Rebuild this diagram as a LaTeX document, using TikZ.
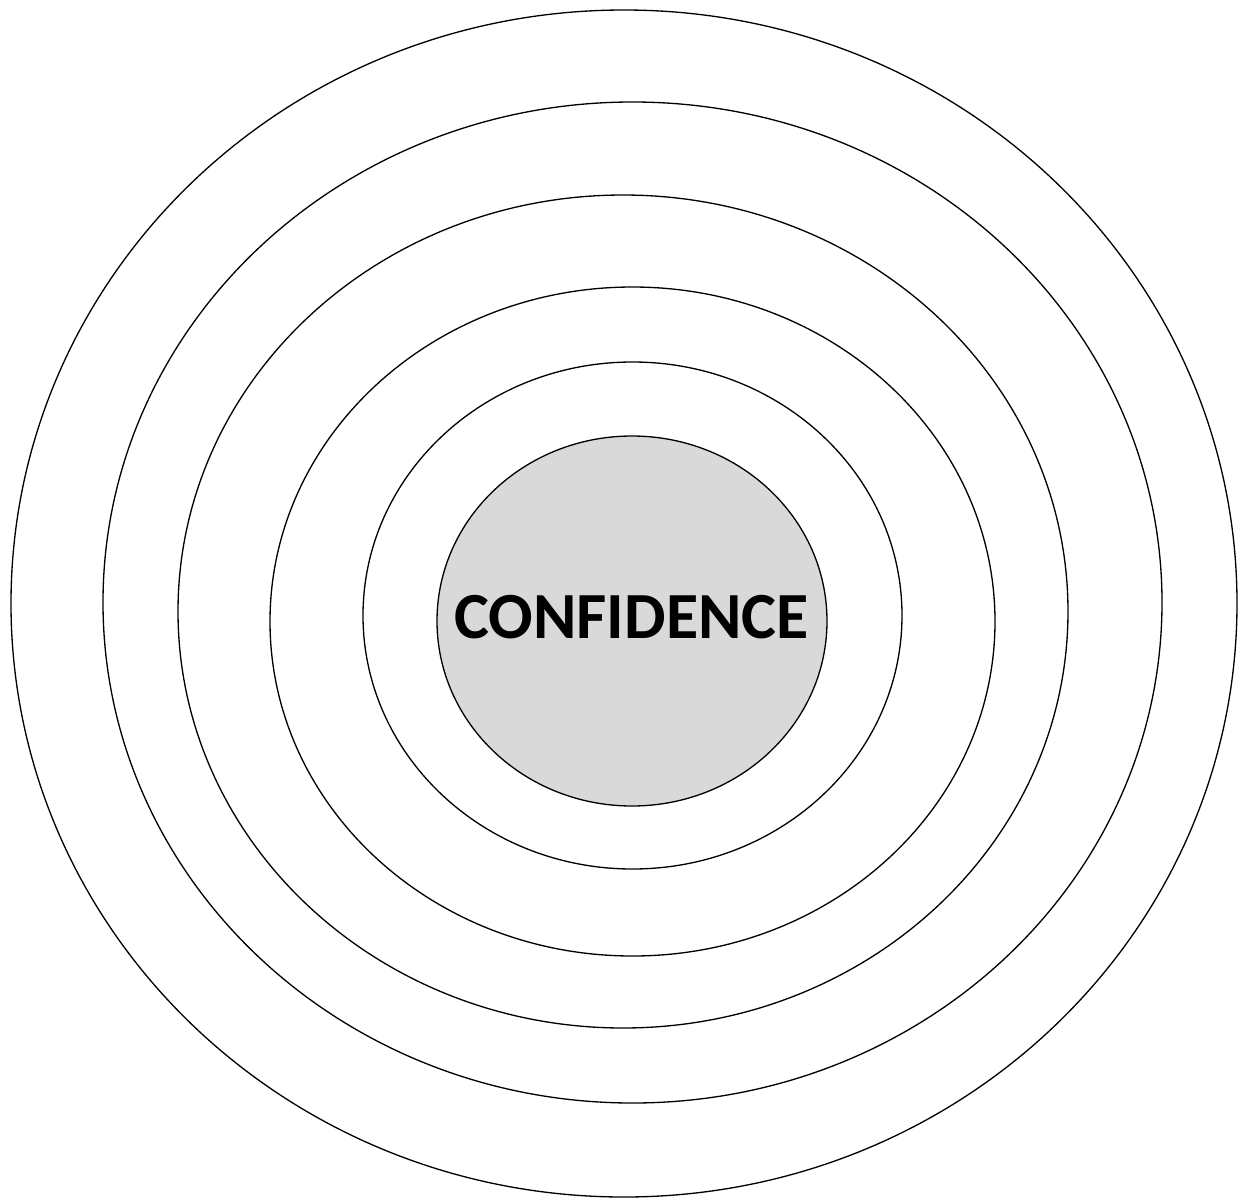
\documentclass[tikz,border=0pt]{standalone}
\usepackage{fontspec}
\setmainfont{Carlito}
\usetikzlibrary{shapes.geometric}
\definecolor{CoreGrey}{HTML}{D9D9D9}

\begin{document}
\begin{tikzpicture}[
  ring/.style={ellipse,draw=black,line width=0.75pt,inner sep=0pt,outer sep=0pt},
  core/.style={ring,fill=CoreGrey}]
  \useasboundingbox (0,0) rectangle (24.76,-23.98);
  \node[ring,minimum width=24.52cm,minimum height=23.74cm] (ringA) at (12.48,-12.07) {};
  \node[ring,minimum width=21.18cm,minimum height=20.02cm] (ringB) at (12.65,-12.05) {};
  \node[ring,minimum width=17.80cm,minimum height=16.66cm] (ringC) at (12.46,-12.23) {};
  \node[ring,minimum width=14.50cm,minimum height=13.38cm] (ringD) at (12.65,-12.43) {};
  \node[ring,minimum width=10.78cm,minimum height=10.14cm] (ringE) at (12.65,-12.31) {};
  \node[core,minimum width=7.80cm,minimum height=7.40cm] (conf) at (12.64,-12.42) {};
  \node[font=\fontsize{37.5}{40}\selectfont\bfseries,inner sep=0pt] (label) at (12.63,-12.34) {CONFIDENCE};
\end{tikzpicture}
\end{document}
